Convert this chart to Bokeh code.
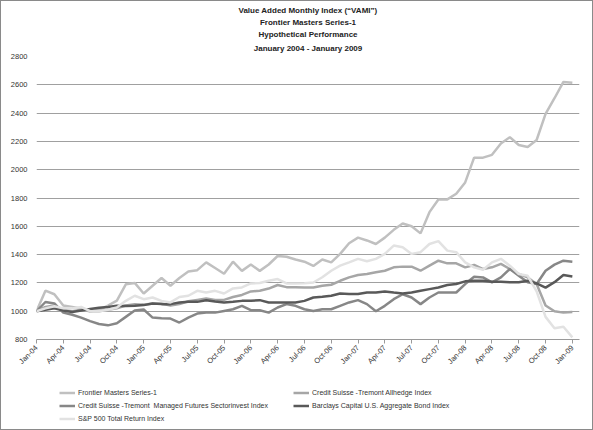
from bokeh.plotting import figure
from bokeh.models import (Range1d, FixedTicker, Legend, LegendItem, Title)
from bokeh.layouts import column
from bokeh.embed import file_html
from bokeh.resources import INLINE
from math import pi

# ---- data (monthly VAMI, Jan-04 .. Jan-09) ----
months = list(range(61))
tick_labels = ["Jan-04", "Apr-04", "Jul-04", "Oct-04", "Jan-05", "Apr-05", "Jul-05",
               "Oct-05", "Jan-06", "Apr-06", "Jul-06", "Oct-06", "Jan-07", "Apr-07",
               "Jul-07", "Oct-07", "Jan-08", "Apr-08", "Jul-08", "Oct-08", "Jan-09"]

frontier = [1000, 1145, 1120, 1040, 1030, 1020, 1000, 1010, 1040, 1075,
            1190, 1200, 1125, 1180, 1235, 1180, 1235, 1280, 1290, 1345,
            1305, 1265, 1350, 1285, 1330, 1285, 1330, 1390, 1385, 1365,
            1350, 1320, 1365, 1345, 1405, 1480, 1520, 1500, 1475, 1520,
            1575, 1620, 1600, 1550, 1700, 1790, 1790, 1830, 1910, 2085,
            2085, 2105, 2185, 2230, 2175, 2160, 2210, 2395, 2505, 2620, 2615]

allhedge = [1000, 1030, 1040, 1010, 1000, 1010, 1000, 1000, 1010, 1020,
            1040, 1050, 1045, 1055, 1055, 1040, 1050, 1070, 1080, 1090,
            1080, 1080, 1100, 1115, 1140, 1145, 1160, 1185, 1170, 1170,
            1168, 1168, 1180, 1187, 1215, 1239, 1256, 1263, 1275, 1286,
            1310, 1315, 1315, 1286, 1322, 1357, 1338, 1338, 1310, 1327,
            1298, 1310, 1334, 1298, 1263, 1239, 1192, 1040, 1000, 990, 995]

managed_futures = [1000, 1065, 1055, 990, 975, 955, 930, 910, 900, 915,
                   960, 1005, 1012, 955, 950, 948, 920, 955, 983, 990,
                   990, 1002, 1014, 1038, 1007, 1007, 990, 1026, 1050, 1038,
                   1014, 1002, 1014, 1014, 1038, 1062, 1078, 1050, 1000, 1038,
                   1085, 1120, 1097, 1050, 1097, 1132, 1132, 1132, 1192, 1244,
                   1239, 1204, 1239, 1298, 1251, 1204, 1192, 1286, 1329, 1357, 1350]

barclays = [1000, 1010, 1020, 1005, 995, 1005, 1015, 1025, 1030, 1038,
            1036, 1038, 1043, 1054, 1050, 1050, 1062, 1066, 1066, 1078,
            1069, 1062, 1066, 1073, 1073, 1078, 1062, 1062, 1062, 1062,
            1073, 1097, 1102, 1109, 1125, 1121, 1121, 1132, 1132, 1140,
            1132, 1125, 1132, 1144, 1156, 1168, 1185, 1192, 1211, 1215,
            1215, 1208, 1208, 1204, 1204, 1215, 1196, 1167, 1205, 1256, 1246]

sp500 = [1000, 1020, 1035, 1020, 1020, 1030, 1000, 1000, 1010, 1026,
         1073, 1109, 1085, 1097, 1073, 1062, 1100, 1109, 1144, 1132,
         1144, 1125, 1161, 1168, 1196, 1199, 1215, 1227, 1196, 1196,
         1198, 1203, 1240, 1286, 1322, 1345, 1370, 1353, 1370, 1405,
         1464, 1452, 1405, 1417, 1475, 1495, 1428, 1417, 1345, 1310,
         1293, 1345, 1370, 1322, 1263, 1250, 1140, 960, 880, 890, 815]

series_names = ["Frontier Masters Series-1",
                "Credit Suisse -Tremont Allhedge Index",
                "Credit Suisse -Tremont  Managed Futures Sectorinvest Index",
                "Barclays Capital U.S. Aggregate Bond Index",
                "S&P 500 Total Return Index"]
series_values = [frontier, allhedge, managed_futures, barclays, sp500]
series_colors = ["#c0c0c0", "#a6a6a6", "#878787", "#595959", "#e2e2e2"]

title_lines = ["Value Added Monthly Index (\u201cVAMI\u201d)",
               "Frontier Masters Series-1",
               "Hypothetical Performance",
               "January 2004 - January 2009"]

FONT = "Liberation Sans"

p = figure(width=591, height=378, output_backend="svg", toolbar_location=None,
           x_range=Range1d(0, 60.8), y_range=Range1d(800, 2800),
           min_border_left=35, min_border_right=13, min_border_top=55,
           min_border_bottom=40)
p.outline_line_color = None
p.background_fill_color = "white"
p.border_fill_color = "white"

title_standoffs = [7, 0, 1, 1]
for k, line in enumerate(reversed(title_lines)):
    p.add_layout(Title(text=line, align="center", text_font=FONT,
                       text_font_size="8px", text_font_style="bold",
                       text_color="#222222", standoff=title_standoffs[k]), "above")

for vals, col in zip(series_values, series_colors):
    p.line(months, vals, line_color=col, line_width=2.5)

# axes
p.xaxis.ticker = FixedTicker(ticks=list(range(0, 61, 3)))
p.xaxis.major_label_overrides = {i * 3: lab for i, lab in enumerate(tick_labels)}
p.xaxis.major_label_orientation = pi / 4
p.xaxis.major_label_text_font = FONT
p.xaxis.major_label_text_font_size = "7.5px"
p.xaxis.major_label_text_color = "#333333"
p.xaxis.axis_line_color = "#9a9a9a"
p.xaxis.major_tick_line_color = "#9a9a9a"
p.xaxis.major_tick_out = 4
p.xaxis.major_tick_in = 0
p.xaxis.minor_tick_line_color = None
p.xaxis.major_label_standoff = 3

p.yaxis.ticker = FixedTicker(ticks=list(range(800, 2801, 200)))
p.yaxis.axis_line_color = None
p.yaxis.major_tick_line_color = None
p.yaxis.major_tick_out = 0
p.yaxis.major_tick_in = 0
p.yaxis.minor_tick_line_color = None
p.yaxis.major_label_text_font = FONT
p.yaxis.major_label_text_font_size = "7.5px"
p.yaxis.major_label_text_color = "#333333"
p.yaxis.major_label_standoff = 9

p.xgrid.grid_line_color = None
p.ygrid.grid_line_color = "#a0a0a0"
p.ygrid.grid_line_width = 1

# legend strip below the chart
lg = figure(width=591, height=50, output_backend="svg", toolbar_location=None,
            x_range=Range1d(0, 1), y_range=Range1d(0, 1), min_border=0,
            x_axis_location=None, y_axis_location=None)
lg.outline_line_color = None
lg.grid.grid_line_color = None
leg_renderers = [lg.line(x=[5, 6], y=[5, 5], line_color=c, line_width=2.5) for c in series_colors]
legend = Legend(items=[LegendItem(label=n, renderers=[r]) for n, r in zip(series_names, leg_renderers)],
                orientation="horizontal", ncols=2, location=(23, 6),
                label_text_font=FONT, label_text_font_size="7px",
                label_text_color="#333333", glyph_width=16, glyph_height=9,
                label_standoff=3, label_width=211, spacing=4, padding=0,
                margin=0, border_line_color=None, background_fill_alpha=0)
lg.add_layout(legend, "center")

layout = column(p, lg, spacing=0)
layout.styles = {"border": "1px solid #8a8a8a"}

open("out.html", "w").write(file_html(layout, INLINE))
